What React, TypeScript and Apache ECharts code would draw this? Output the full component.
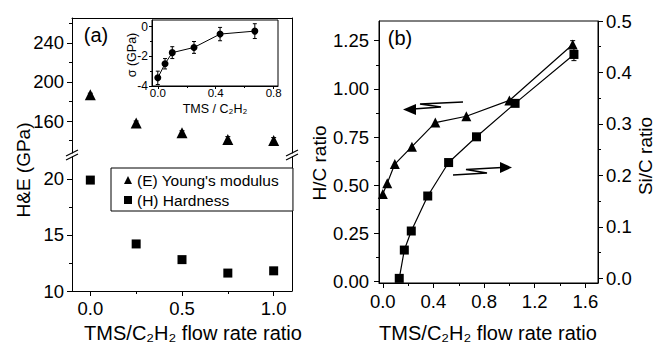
import React, { useEffect, useRef } from 'react';
import * as echarts from 'echarts';

// Panel (a): Young's modulus (E) and hardness (H)
const flowA = [0, 0.25, 0.5, 0.75, 1.0];
const youngE = [187, 158, 148, 141, 140];
const youngErr = [1.5, 2, 2, 3, 3];
const hardH = [19.9, 14.2, 12.8, 11.6, 11.8];
const hardErr = [0.15, 0.2, 0.2, 0.3, 0.3];

// Inset: stress vs TMS / C2H2
const stressX = [0, 0.05, 0.1, 0.25, 0.43, 0.67];
const stressY = [-3.45, -2.5, -1.75, -1.4, -0.5, -0.3];
const stressErr = [0.45, 0.35, 0.4, 0.4, 0.45, 0.5];

// Panel (b): H/C and Si/C ratios
const hcX = [0, 0.035, 0.095, 0.23, 0.415, 0.66, 1.0, 1.5];
const hcY = [0.455, 0.51, 0.61, 0.70, 0.825, 0.858, 0.94, 1.23];
const hcErr = [0, 0, 0, 0, 0, 0, 0, 0.02];
const sicX = [0.13, 0.17, 0.225, 0.355, 0.52, 0.74, 1.045, 1.51];
const sicY = [0.0, 0.055, 0.092, 0.16, 0.225, 0.275, 0.34, 0.435];
const sicErr = [0, 0, 0, 0, 0, 0, 0, 0.012];

// Tick labels
const aXTicks = [0, 0.5, 1.0];
const aXMinor = [0.25, 0.75];
const aUpperTicks = [160, 200, 240];
const aUpperMinor = [140, 180, 220, 260];
const aLowerTicks = [10, 15, 20];
const aLowerMinor = [12.5, 17.5];
const insetXTicks = [0, 0.4, 0.8];
const insetXMinor = [0.2, 0.6];
const insetYTicks = [0, -2, -4];
const insetYMinor = [-1, -3];
const bXTicks = [0, 0.4, 0.8, 1.2, 1.6];
const bXMinor = [0.2, 0.6, 1.0, 1.4];
const bLeftTicks = [0, 0.25, 0.5, 0.75, 1.0, 1.25];
const bLeftMinor = [0.125, 0.375, 0.625, 0.875, 1.125];
const bRightTicks = [0, 0.1, 0.2, 0.3, 0.4, 0.5];
const bRightMinor = [0.05, 0.15, 0.25, 0.35, 0.45];

const FONT = '"Liberation Sans", Arial, Helvetica, sans-serif';
const BLACK = '#000';
const TICK = 18.5;

const axLine = { show: true, onZero: false, lineStyle: { color: BLACK, width: 1 } };
const noLine = { show: false, onZero: false };

function mainAxis(gridIndex: number, position: string, min: number, max: number, labels: number[], fmt: (v: number) => string, margin: number, fontSize = TICK, tickLen = 5) {
  return {
    type: 'value', gridIndex, position, min, max,
    splitLine: { show: false },
    axisLine: axLine,
    axisTick: { show: true, inside: false, length: tickLen, customValues: labels, lineStyle: { color: BLACK, width: 1 } },
    axisLabel: { show: true, customValues: labels, formatter: fmt, margin, color: BLACK, fontSize, fontFamily: FONT },
  };
}
function minorAxis(gridIndex: number, position: string, min: number, max: number, vals: number[], len = 3) {
  return {
    type: 'value', gridIndex, position, min, max,
    splitLine: { show: false },
    axisLine: noLine,
    axisTick: { show: true, inside: false, length: len, customValues: vals, lineStyle: { color: BLACK, width: 1 } },
    axisLabel: { show: false },
  };
}
function frameAxis(gridIndex: number, position: string, min: number, max: number) {
  return {
    type: 'value', gridIndex, position, min, max,
    splitLine: { show: false },
    axisLine: axLine,
    axisTick: { show: false },
    axisLabel: { show: false },
  };
}

function errBars(xs: number[], ys: number[], es: number[], xi: number, yi: number, cap: number) {
  return {
    type: 'custom', xAxisIndex: xi, yAxisIndex: yi, z: 1, silent: true,
    encode: { x: 0, y: 1 },
    data: xs.map((x, i) => [x, ys[i], es[i]]),
    renderItem: (params: any, api: any) => {
      const x = api.value(0), y = api.value(1), e = api.value(2);
      if (!e) return { type: 'group', children: [] };
      const t = api.coord([x, y + e]);
      const b = api.coord([x, y - e]);
      const st = { stroke: BLACK, lineWidth: 1 };
      return {
        type: 'group', children: [
          { type: 'line', shape: { x1: t[0], y1: t[1], x2: b[0], y2: b[1] }, style: st },
          { type: 'line', shape: { x1: t[0] - cap, y1: t[1], x2: t[0] + cap, y2: t[1] }, style: st },
          { type: 'line', shape: { x1: b[0] - cap, y1: b[1], x2: b[0] + cap, y2: b[1] }, style: st },
        ],
      };
    },
  };
}

function vtext(text: string, x: number, y: number, size: number) {
  return {
    type: 'text', x, y, rotation: Math.PI / 2,
    style: { text, font: `${size}px ${FONT}`, fill: BLACK, align: 'center', verticalAlign: 'middle', textAlign: 'center', textVerticalAlign: 'middle' },
  };
}
function htext(text: string, x: number, y: number, size: number, align = 'center') {
  return {
    type: 'text', x, y,
    style: { text, font: `${size}px ${FONT}`, fill: BLACK, align, verticalAlign: 'middle', textAlign: align, textVerticalAlign: 'middle' },
  };
}
function slash(x: number, y: number) {
  const st = { stroke: BLACK, lineWidth: 1.2 };
  return [
    { type: 'line', shape: { x1: x - 6, y1: y + 1, x2: x + 6, y2: y - 5 }, style: st },
    { type: 'line', shape: { x1: x - 6, y1: y + 5, x2: x + 6, y2: y - 1 }, style: st },
  ];
}

const f1 = (v: number) => v.toFixed(1);
const f2 = (v: number) => v.toFixed(2);
const f0 = (v: number) => String(v);

const aXMin = -0.1, aXMax = 1.1;
const aUMin = 127.2, aUMax = 265.6;
const aLMin = 10, aLMax = 21.96;
const iXMin = -0.04, iXMax = 0.83;
const iYMin = -4, iYMax = 0.45;
const bXMin = -0.03, bXMax = 1.7;
const bLMin = -0.007, bLMax = 1.352;
const bRMin = -0.009, bRMax = 0.5;

const solid = { color: BLACK, opacity: 1 };

const option: any = {
  animation: false,
  backgroundColor: '#fff',
  textStyle: { fontFamily: FONT, color: BLACK },
  grid: [
    { left: 72, top: 18, width: 220, height: 135 },
    { left: 72, top: 157, width: 220, height: 134 },
    { left: 152, top: 20, width: 126, height: 66, show: true, borderColor: BLACK, borderWidth: 1, backgroundColor: '#fff' },
    { left: 379, top: 21, width: 219, height: 262, show: true, borderColor: BLACK, borderWidth: 1 },
  ],
  xAxis: [
    frameAxis(0, 'top', aXMin, aXMax), // 0
    mainAxis(1, 'bottom', aXMin, aXMax, aXTicks, f1, 8), // 1
    minorAxis(1, 'bottom', aXMin, aXMax, aXMinor), // 2
    mainAxis(2, 'bottom', iXMin, iXMax, insetXTicks, f1, 1, 11.5, 3), // 3
    minorAxis(2, 'bottom', iXMin, iXMax, insetXMinor, 2), // 4
    mainAxis(3, 'bottom', bXMin, bXMax, bXTicks, f1, 9), // 5
    minorAxis(3, 'bottom', bXMin, bXMax, bXMinor), // 6
  ],
  yAxis: [
    mainAxis(0, 'left', aUMin, aUMax, aUpperTicks, f0, 8), // 0
    minorAxis(0, 'left', aUMin, aUMax, aUpperMinor), // 1
    frameAxis(0, 'right', aUMin, aUMax), // 2
    mainAxis(1, 'left', aLMin, aLMax, aLowerTicks, f0, 8), // 3
    minorAxis(1, 'left', aLMin, aLMax, aLowerMinor), // 4
    frameAxis(1, 'right', aLMin, aLMax), // 5
    mainAxis(2, 'left', iYMin, iYMax, insetYTicks, f0, 4, 12, 3), // 6
    minorAxis(2, 'left', iYMin, iYMax, insetYMinor, 2), // 7
    mainAxis(3, 'left', bLMin, bLMax, bLeftTicks, f2, 10), // 8
    minorAxis(3, 'left', bLMin, bLMax, bLeftMinor), // 9
    mainAxis(3, 'right', bRMin, bRMax, bRightTicks, f1, 8), // 10
    minorAxis(3, 'right', bRMin, bRMax, bRightMinor), // 11
  ],
  legend: {
    data: ["(E) Young's modulus", '(H) Hardness'],
    orient: 'vertical', left: 111, top: 168,
    padding: [3, 14, 2, 13], itemGap: 2, itemWidth: 8, itemHeight: 8, itemTextGap: 8,
    backgroundColor: '#fff', borderColor: BLACK, borderWidth: 1, borderRadius: 0,
    textStyle: { fontSize: 15.5, color: BLACK, fontFamily: FONT, lineHeight: 18 },
  },
  series: [
    errBars(flowA, youngE, youngErr, 0, 0, 2.5),
    {
      name: "(E) Young's modulus", type: 'scatter', xAxisIndex: 0, yAxisIndex: 0, z: 3,
      symbol: 'triangle', symbolSize: 11, itemStyle: solid,
      data: flowA.map((x, i) => [x, youngE[i]]),
    },
    errBars(flowA, hardH, hardErr, 1, 3, 2.5),
    {
      name: '(H) Hardness', type: 'scatter', xAxisIndex: 1, yAxisIndex: 3, z: 3,
      symbol: 'rect', symbolSize: 9, itemStyle: solid,
      data: flowA.map((x, i) => [x, hardH[i]]),
    },
    errBars(stressX, stressY, stressErr, 3, 6, 2),
    {
      name: 'stress', type: 'line', xAxisIndex: 3, yAxisIndex: 6, z: 3,
      symbol: 'circle', symbolSize: 7, showSymbol: true,
      lineStyle: { color: BLACK, width: 1 }, itemStyle: solid,
      data: stressX.map((x, i) => [x, stressY[i]]),
    },
    errBars(hcX, hcY, hcErr, 5, 8, 2.5),
    {
      name: 'H/C', type: 'line', xAxisIndex: 5, yAxisIndex: 8, z: 3,
      symbol: 'triangle', symbolSize: 10, showSymbol: true,
      lineStyle: { color: BLACK, width: 1.2 }, itemStyle: solid,
      data: hcX.map((x, i) => [x, hcY[i]]),
    },
    errBars(sicX, sicY, sicErr, 5, 10, 2.5),
    {
      name: 'Si/C', type: 'line', xAxisIndex: 5, yAxisIndex: 10, z: 3,
      symbol: 'rect', symbolSize: 9, showSymbol: true,
      lineStyle: { color: BLACK, width: 1.2 }, itemStyle: solid,
      data: sicX.map((x, i) => [x, sicY[i]]),
    },
  ],
  graphic: [
    htext('(a)', 96, 35, 20),
    htext('(b)', 400, 38, 20),
    vtext('H&E (GPa)', 23, 170, 19),
    vtext('H/C ratio', 319, 163, 19),
    vtext('Si/C ratio', 645, 156, 19),
    htext('TMS/C\u2082H\u2082 flow rate ratio', 193, 333, 20),
    htext('TMS/C\u2082H\u2082 flow rate ratio', 488, 333, 20),
    htext('TMS / C\u2082H\u2082', 215, 109, 12.5),
    vtext('\u03c3 (GPa)', 132, 55, 12.5),
    ...slash(72, 155),
    ...slash(292, 155),
    { type: 'polyline', shape: { points: [[463, 102], [420, 104], [441, 107], [413, 109]] }, style: { stroke: BLACK, fill: 'none', lineWidth: 1.6 } },
    { type: 'polygon', shape: { points: [[403, 109.5], [416, 104], [416, 115]] }, style: { fill: BLACK } },
    { type: 'polyline', shape: { points: [[453, 175], [487, 173], [466, 169.5], [502, 167.5]] }, style: { stroke: BLACK, fill: 'none', lineWidth: 1.6 } },
    { type: 'polygon', shape: { points: [[512, 167.5], [500, 162], [500, 173]] }, style: { fill: BLACK } },
  ],
};

export default function App() {
  const ref = useRef<HTMLDivElement>(null);
  useEffect(() => {
    const chart = echarts.init(ref.current as HTMLDivElement, null, { renderer: 'svg' });
    chart.setOption(option);
    return () => chart.dispose();
  }, []);
  return <div ref={ref} style={{ position: 'fixed', left: 0, top: 0, width: 655, height: 346, background: '#fff' }} />;
}
